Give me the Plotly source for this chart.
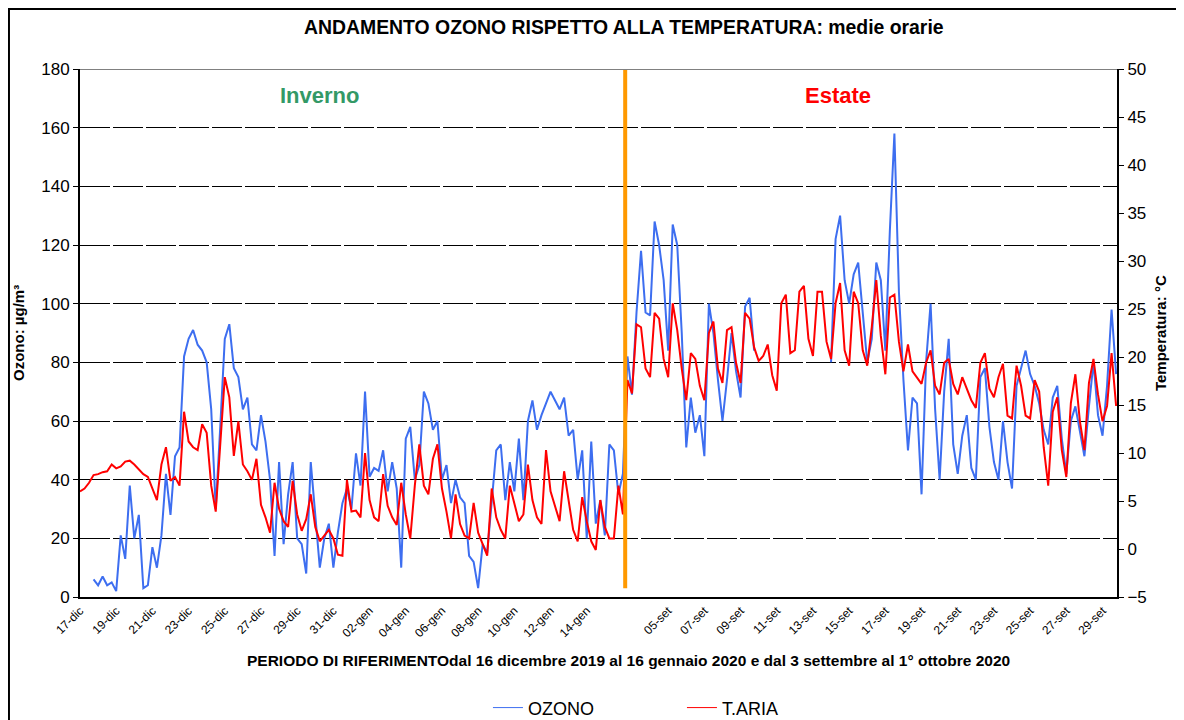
import plotly.graph_objects as go

# valori: una lettura ogni 6 ore (4 al giorno)
ozono_inverno = [
    None, None, None, 6, 4, 7, 4, 5, 2, 21, 13, 38, 20, 28, 3, 4, 17, 10, 21, 42,
    28, 48, 51, 82, 88, 91, 86, 84, 80, 64, 30, 58, 88, 93, 78, 75, 64, 68, 52, 50,
    62, 53, 40, 14, 46, 18, 35, 46, 20, 18, 8, 46, 28, 10, 20, 25, 10, 22, 32, 37,
    30, 49, 38, 70, 41, 44, 43, 50, 36, 46, 37, 10, 54, 58, 40, 45, 70, 66, 57, 60,
    40, 45, 32, 40, 34, 32, 14, 12, 3, 18, 15, 34, 50, 52, 33, 46, 36, 54, 33, 60,
    67, 57, 62, 66, 70, 67, 64, 68, 55, 57, 40, 50, 20, 53, 25, 33, 21, 52, 50, 35,
    42,
]
t_aria_inverno = [
    6.0, 6.3, 6.9, 7.7, 7.8, 8.0, 8.1, 8.8, 8.4, 8.6, 9.1, 9.2, 8.8, 8.3, 7.8, 7.5,
    6.3, 5.1, 8.8, 10.6, 7.1, 7.5, 6.6, 14.3, 11.2, 10.6, 10.3, 13.0, 12.1, 6.6, 3.9,
    11.2, 17.9, 15.8, 9.7, 13.3, 8.8, 8.1, 7.2, 9.4, 4.6, 3.3, 1.7, 6.9, 4.2, 2.9, 2.3,
    7.1, 3.6, 1.9, 3.1, 5.7, 2.3, 0.8, 1.4, 2.0, 1.1, -0.6, -0.7, 7.2, 3.9, 4.0, 3.3,
    10.0, 5.1, 3.3, 2.9, 7.8, 4.5, 3.3, 2.5, 6.9, 3.6, 1.1, 6.6, 10.9, 6.6, 5.7, 9.4,
    10.9, 6.3, 3.9, 1.1, 5.7, 2.6, 1.4, 1.1, 4.8, 1.7, 0.5, -0.7, 6.3, 3.3, 2.0, 1.1,
    6.6, 4.8, 2.9, 3.6, 8.8, 5.1, 3.3, 2.6, 10.3, 6.0, 4.5, 2.9, 8.1, 4.8, 2.0, 0.8,
    5.4, 2.9, 0.8, -0.1, 5.1, 2.3, 1.1, 1.1, 6.6, 3.6,
]
ozono_estate = [
    82, 69, 97, 118, 97, 96, 128, 120, 108, 84, 127, 120, 90, 51, 68, 56, 62, 48, 100,
    90, 74, 60, 74, 90, 77, 68, 99, 102, 84,
    None, None, None, None, None, None, None, None, None, None, None, None, None,
    None, None, None,
    80, 122, 130, 108, 100, 110, 114, 96, 80, 88, 114, 108, 84, 125, 158, 104, 74, 50,
    68, 66, 35, 80, 100, 64, 40, 70, 88, 52, 42, 55, 62, 44, 40, 75, 78, 58, 46, 40,
    60, 46, 37, 72, 78, 84, 76, 72, 66, 57, 52, 68, 72, 54, 42, 60, 65, 56, 48, 65,
    80, 62, 55, 72, 98, 76,
]
t_aria_estate = [
    17.6, 16.2, 23.4, 23.1, 18.8, 17.9, 24.6, 24.0, 19.8, 17.9, 25.6, 22.8, 18.8, 15.5,
    20.4, 19.8, 17.0, 15.5, 22.5, 23.7, 18.8, 17.3, 22.8, 23.1, 19.4, 17.3, 24.6, 24.0,
    21.0, 19.6, 20.1, 21.3, 18.1, 16.5, 25.6, 26.5, 20.4, 20.7, 26.8, 27.4, 21.9, 20.1,
    26.8, 26.8, 21.6, 19.8, 25.6, 27.7, 20.7, 19.1, 26.8, 25.6, 20.7, 19.1, 23.1, 28.0,
    22.2, 18.2, 26.2, 26.5, 21.6, 18.5, 21.3, 18.5, 17.9, 17.2, 19.4, 20.7, 17.0, 16.1,
    19.4, 19.8, 17.2, 16.1, 17.9, 16.7, 15.5, 14.7, 19.4, 20.4, 16.7, 15.8, 17.9, 19.3,
    13.9, 13.6, 19.1, 17.0, 13.9, 13.6, 17.6, 16.4, 10.6, 6.6, 14.3, 15.8, 10.3, 7.5,
    15.2, 18.2, 13.3, 10.3, 17.3, 19.8, 16.1, 13.3, 14.9, 20.4, 14.9,
]
etichette_inverno = ["17-dic", "19-dic", "21-dic", "23-dic", "25-dic", "27-dic", "29-dic",
                     "31-dic", "02-gen", "04-gen", "06-gen", "08-gen", "10-gen", "12-gen",
                     "14-gen"]
etichette_estate = ["05-set", "07-set", "09-set", "11-set", "13-set", "15-set", "17-set",
                    "19-set", "21-set", "23-set", "25-set", "27-set", "29-set"]

ozono = ozono_inverno + ozono_estate
t_aria = t_aria_inverno + t_aria_estate
x = list(range(len(ozono)))

n_inv = len(ozono_inverno)
tickvals = [8 * k for k in range(len(etichette_inverno))] + \
           [n_inv + 9 + 8 * k for k in range(len(etichette_estate))]
ticktext = etichette_inverno + etichette_estate

BLU = "#3d6ef0"
ROSSO = "#ff0000"

fig = go.Figure()
fig.add_trace(go.Scatter(x=x, y=ozono, mode="lines", line=dict(color=BLU, width=2),
                         showlegend=False))
fig.add_trace(go.Scatter(x=x, y=t_aria, mode="lines", line=dict(color=ROSSO, width=2),
                         yaxis="y2", showlegend=False))
# voci di legenda con linea sottile
fig.add_trace(go.Scatter(x=[None], y=[None], mode="lines", name="OZONO",
                         line=dict(color=BLU, width=1)))
fig.add_trace(go.Scatter(x=[None], y=[None], mode="lines", name="T.ARIA",
                         line=dict(color=ROSSO, width=1)))

# separatore inverno / estate
fig.add_shape(type="line", x0=n_inv - 0.5, x1=n_inv - 0.5, y0=3, y1=180,
              line=dict(color="#ff9900", width=4))
# bordo superiore dell'area del grafico
fig.add_shape(type="line", xref="paper", x0=0, x1=1, y0=180, y1=180,
              line=dict(color="#808080", width=2))
# cornice esterna
fig.add_shape(type="rect", xref="paper", yref="paper", x0=-0.0685, x1=1.1,
              y0=-0.3, y1=1.1136, line=dict(color="black", width=2))

def nota(testo, x, y, size, color="black", angle=0):
    fig.add_annotation(text=testo, xref="paper", yref="paper", x=x, y=y,
                       xanchor="center", yanchor="middle", textangle=angle,
                       showarrow=False, font=dict(size=size, color=color))

nota("<b>ANDAMENTO OZONO RISPETTO ALLA TEMPERATURA: medie orarie</b>", 0.5246, 1.0795, 19.4)
nota("<b>Inverno</b>", 0.231, 0.95, 22, "#339966")
nota("<b>Estate</b>", 0.731, 0.95, 22, "#ff0000")
nota("<b>Ozono: µg/m³</b>", -0.0598, 0.5, 15, angle=-90)
nota("<b>Temperatura: °C</b>", 1.0415, 0.5, 15, angle=-90)
nota("<b>PERIODO DI RIFERIMENTOdal 16 dicembre 2019 al 16 gennaio 2020 "
     "e dal 3 settembre al 1° ottobre 2020</b>", 0.5288, -0.1212, 15.5)

fig.update_layout(
    width=1184, height=720,
    margin=dict(l=72, r=75, t=61, b=131, autoexpand=False),
    paper_bgcolor="white", plot_bgcolor="white",
    font=dict(family="Liberation Sans, Arial", color="black"),
    legend=dict(orientation="h", x=0.3934, y=-0.21, xanchor="left", yanchor="middle",
                entrywidth=149, entrywidthmode="pixels", font=dict(size=18)),
    xaxis=dict(range=[0, 229.2], tickmode="array", tickvals=tickvals, ticktext=ticktext,
               tickangle=-45, tickfont=dict(size=12), showgrid=False, zeroline=False,
               showline=True, linecolor="black", linewidth=2, ticks="", automargin=False),
    yaxis=dict(range=[0, 180], dtick=20, showgrid=True, gridcolor="black", gridwidth=1,
               griddash="30px,3px", zeroline=False, showline=True, linecolor="black",
               linewidth=2, ticks="outside", ticklen=5, tickcolor="black",
               tickfont=dict(size=17), automargin=False),
    yaxis2=dict(range=[-5, 50], dtick=5, overlaying="y", side="right", showgrid=False,
                zeroline=False, showline=True, linecolor="black", linewidth=2,
                ticks="outside", ticklen=5, tickcolor="black", tickfont=dict(size=17),
                automargin=False),
)

fig.write_html("out.html")
